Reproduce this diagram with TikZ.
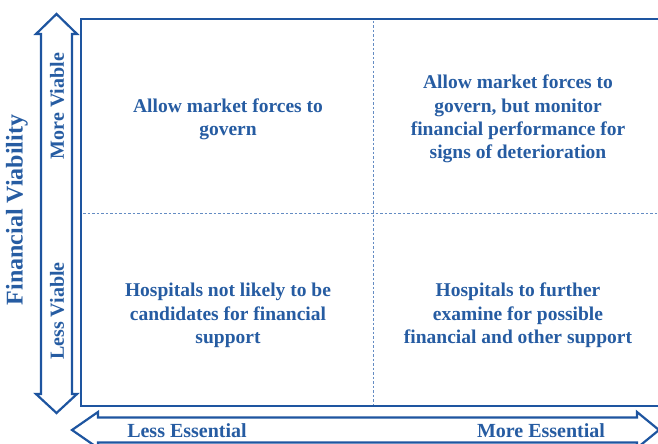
\documentclass[tikz,border=0pt]{standalone}
\usepackage{fontspec}
\setmainfont{Liberation Serif}
\definecolor{ink}{RGB}{38,92,162}
\definecolor{linecol}{RGB}{30,85,160}
\definecolor{dashcol}{RGB}{100,140,195}
\begin{document}
\begin{tikzpicture}[x=1pt,y=-1pt,
  quad/.style={text=ink,font=\fontsize{19.5}{23.3}\selectfont\bfseries,align=center},
  lab/.style={text=ink,font=\fontsize{20}{22}\selectfont\bfseries},
  outline/.style={draw=linecol,line width=2.2pt,line join=miter,fill=white},
  divider/.style={draw=dashcol,line width=0.8pt,dash pattern=on 2.5pt off 2pt}]
\useasboundingbox (0,0) rectangle (658,444);
% box
\draw[outline] (81,19) rectangle (670,406);
\draw[divider] (373,21) -- (373,404);
\draw[divider] (83,213) -- (668,213);
% vertical double arrow
\draw[outline] (56.5,14) -- (77,34) -- (72,34) -- (72,394) -- (77,394) -- (56.5,413)
  -- (36,394) -- (41,394) -- (41,34) -- (36,34) -- cycle;
% horizontal double arrow
\draw[outline] (72,430) -- (98,412) -- (98,417.5) -- (637,417.5) -- (637,412) -- (659,430)
  -- (637,448) -- (637,442.5) -- (98,442.5) -- (98,448) -- cycle;
% texts
\node[quad] (tl) at (228,119) {Allow market forces to\\govern};
\node[quad] (tr) at (518,119) {Allow market forces to\\govern, but monitor\\financial performance for\\signs of deterioration};
\node[quad] (bl) at (228,315.5) {Hospitals not likely to be\\candidates for financial\\support};
\node[quad] (br) at (518,315.5) {Hospitals to further\\examine for possible\\financial and other support};
\node[lab,rotate=90] (fv) at (17,210) {\fontsize{24}{26}\selectfont Financial Viability};
\node[lab,rotate=90] (mv) at (57,106) {More Viable};
\node[lab,rotate=90] (lv) at (57,311) {Less Viable};
\node[lab] (le) at (187,431) {Less Essential};
\node[lab] (me) at (541,431) {More Essential};
\end{tikzpicture}
\end{document}
